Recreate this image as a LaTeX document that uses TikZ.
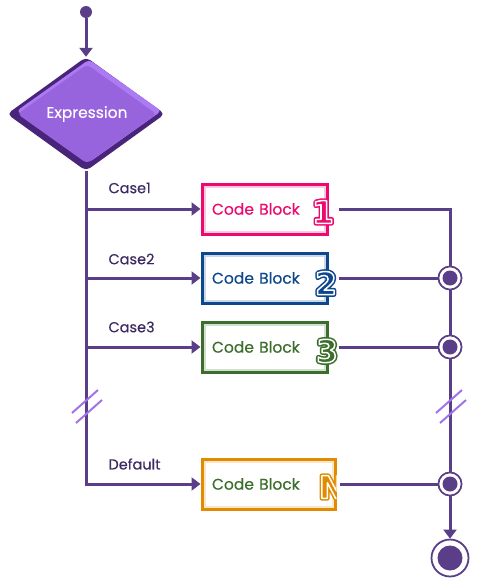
\documentclass[tikz,border=0pt]{standalone}
\usepackage{fontspec}
\setmainfont{Poppins}[UprightFeatures={FakeBold=0.35}]
\newfontfamily\numfont{DejaVu Sans}
\usetikzlibrary{shapes.geometric}
\usetikzlibrary{arrows.meta}

\definecolor{flow}{RGB}{90,62,135}
\definecolor{flowtext}{RGB}{62,42,98}
\definecolor{diaface}{RGB}{152,100,222}
\definecolor{diarim}{RGB}{72,36,122}
\definecolor{diatop}{RGB}{172,122,242}
\definecolor{brk}{RGB}{162,114,234}
\definecolor{cbpink}{RGB}{236,10,110}
\definecolor{cbblue}{RGB}{14,72,140}
\definecolor{cbgreen}{RGB}{58,110,42}
\definecolor{cborange}{RGB}{226,138,0}

% outlined block number
\newcommand{\blocknum}[4]{%
	\node[numtext] (#1) at #2 {\textcolor{#3}{\special{pdf:literal direct 2 Tr 4.6 w 1 j}#4\special{pdf:literal direct 0 Tr}}};
	\node[numtext] (#1w) at #2 {\textcolor{#3}{\special{pdf:literal direct 2 Tr 1.5 w 1 j 1 1 1 RG}#4\special{pdf:literal direct 0 Tr}}};}

\begin{document}
\begin{tikzpicture}[x=1pt,y=-1pt,
	flowline/.style={draw=flow,line width=3pt},
	flowarrow/.style={flowline,-{Triangle[length=9pt,width=13pt]}},
	codebox/.style={draw=#1,line width=3pt,fill=white,text=#1,minimum width=125pt,minimum height=50pt,
		inner xsep=10pt,inner ysep=0pt,text width=105pt,align=left,font=\fontsize{15.5}{17}\selectfont,
		path picture={\draw[#1!22,line width=7pt] (path picture bounding box.south west) rectangle (path picture bounding box.north east);}},
	caselabel/.style={anchor=west,text=flowtext,font=\fontsize{14.5}{16}\selectfont},
	numtext/.style={inner sep=0pt,font=\numfont\bfseries\fontsize{31}{33}\selectfont},
	junction/.style={circle,draw=flow,line width=1.6pt,fill=white,minimum size=23pt,inner sep=0pt,
		path picture={\fill[flow] (path picture bounding box.center) circle (7.5pt);}},
	breakmark/.style={draw=brk,line width=2pt}]
	\useasboundingbox (0,0) rectangle (481,586);

	\node[circle,fill=flow,minimum size=12pt,inner sep=0pt] (start) at (86,12) {};
	\node[diamond,fill=diarim,aspect=1.39,minimum width=158pt,minimum height=114pt,inner sep=0pt,rounded corners=5pt] (expr) at (86,114) {};
	\node[diamond,fill=diatop,aspect=1.39,minimum width=145pt,minimum height=103pt,inner sep=0pt,rounded corners=4pt] (exprtop) at (89,111) {};
	\node[diamond,fill=diaface,aspect=1.39,minimum width=139pt,minimum height=99pt,inner sep=0pt,rounded corners=4pt,
		text=white,font=\fontsize{15.5}{17}\selectfont] (exprin) at (87,114) {Expression};
	\draw[flowarrow] (start) -- (expr.north);

	\node[codebox=cbpink] (cb1) at (264.5,209) {Code Block};
	\node[codebox=cbblue] (cb2) at (264.5,278) {Code Block};
	\node[codebox=cbgreen,text=cbgreen] (cb3) at (264.5,347) {Code Block};
	\node[codebox=cborange,text=cbgreen,minimum width=133pt,text width=113pt] (cbn) at (268.5,484) {Code Block};

	\node[caselabel] (lab1) at (105,188) {Case1};
	\node[caselabel] (lab2) at (105,259) {Case2};
	\node[caselabel] (lab3) at (105,327) {Case3};
	\node[caselabel] (labn) at (105,464) {Default};

	% left side
	\draw[flowarrow] (expr.south) |- (cbn.west);
	\draw[flowarrow] (expr.south |- cb1.west) -- (cb1.west);
	\draw[flowarrow] (expr.south |- cb2.west) -- (cb2.west);
	\draw[flowarrow] (expr.south |- cb3.west) -- (cb3.west);

	% right side
	\coordinate (r1) at (450,209);
	\node[junction] (j2) at (450,278) {};
	\node[junction] (j3) at (450,347) {};
	\node[junction] (jn) at (450,484) {};
	\node[circle,draw=flow,line width=1.8pt,fill=white,minimum size=37pt,inner sep=0pt,
		path picture={\fill[flow] (path picture bounding box.center) circle (12.5pt);}] (stop) at (450,558) {};
	\draw[flowline] ([xshift=10pt]cb1.east) -- (r1) -- (j2);
	\draw[flowline] (j2) -- (j3) -- (jn);
	\draw[flowline] ([xshift=10pt]cb2.east) -- (j2);
	\draw[flowline] ([xshift=10pt]cb3.east) -- (j3);
	\draw[flowline] ([xshift=3pt]cbn.east) -- (jn);
	\node[junction] at (j2) {};
	\node[junction] at (j3) {};
	\node[junction] at (jn) {};
	\draw[flowarrow] (jn) -- (stop.north);

	\foreach \x in {86,450} {
		\draw[breakmark] (\x-14,413) -- (\x+12,390);
		\draw[breakmark] (\x-10,423) -- (\x+16,400);
	}

	\blocknum{num1}{(323,212)}{cbpink}{1}
	\blocknum{num2}{(326,283)}{cbblue}{2}
	\blocknum{num3}{(327,351)}{cbgreen}{3}
	\begin{scope}
		\clip (cbn.south west) rectangle (cbn.north east);
		\blocknum{numn}{(332,487)}{cborange}{N}
	\end{scope}
\end{tikzpicture}
\end{document}
